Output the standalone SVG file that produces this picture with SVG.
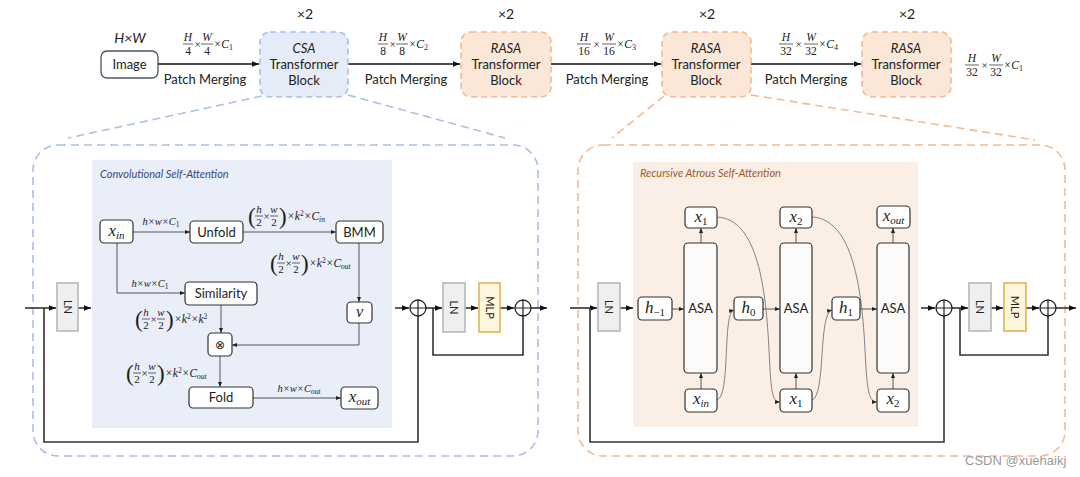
<svg xmlns="http://www.w3.org/2000/svg" width="1080" height="477" viewBox="0 0 1080 477">
<defs>
<style>
.t{font-family:Lato,"Noto Sans","Liberation Sans",sans-serif;fill:#222}
.ti{font-family:Lato,"Noto Sans","Liberation Sans",sans-serif;font-style:italic;fill:#222}
.m{font-family:"Liberation Serif","DejaVu Serif",serif;font-style:italic;fill:#222}
.n{font-family:"Liberation Serif","DejaVu Serif",serif;fill:#222}
.box{fill:#fff;stroke:#333;stroke-width:1.2}
.ln{fill:#efefef;stroke:#b8b8b8;stroke-width:1.6}
.mlp{fill:#fdf6dc;stroke:#dcb553;stroke-width:1.6}
.bar{stroke:#222;stroke-width:0.7}
.main{fill:none;stroke:#111;stroke-width:1.5}
.skip{fill:none;stroke:#333;stroke-width:1.6}
.thin{fill:none;stroke:#444;stroke-width:0.9}
.curve{fill:none;stroke:#666;stroke-width:0.8}
.plus{fill:#fff;stroke:#222;stroke-width:1.3}
</style>
<marker id="A" viewBox="0 0 10 10" refX="10" refY="5" markerWidth="7" markerHeight="7" markerUnits="userSpaceOnUse" orient="auto"><path d="M0,1 L10,5 L0,9 z" fill="#111"/></marker>
<marker id="a" viewBox="0 0 10 10" refX="10" refY="5" markerWidth="5" markerHeight="5" markerUnits="userSpaceOnUse" orient="auto"><path d="M0,1 L10,5 L0,9 z" fill="#222"/></marker>
</defs>
<rect width="1080" height="477" fill="#fff"/>

<g id="panels">
<line x1="262" y1="96" x2="68" y2="138" stroke="#a9bfe8" stroke-width="1.6" stroke-dasharray="8 5"/>
<line x1="348" y1="95" x2="505" y2="138" stroke="#a9bfe8" stroke-width="1.6" stroke-dasharray="8 5"/>
<rect x="33" y="145" width="505" height="311" rx="25" fill="none" stroke="#a9bfe8" stroke-width="1.6" stroke-dasharray="8 5"/>
<line x1="664" y1="96" x2="612" y2="138" stroke="#f0bb95" stroke-width="1.6" stroke-dasharray="8 5"/>
<line x1="751" y1="95" x2="1035" y2="140" stroke="#f0bb95" stroke-width="1.6" stroke-dasharray="8 5"/>
<rect x="578" y="145" width="487" height="311" rx="25" fill="none" stroke="#f0bb95" stroke-width="1.6" stroke-dasharray="8 5"/>
<rect x="92" y="160" width="300" height="268" fill="#e9eef8"/>
<text class="ti" x="100" y="178" font-size="11" style="fill:#3b4b80">Convolutional Self-Attention</text>
<rect x="633" y="162" width="285" height="265" fill="#fbeee5"/>
<text class="ti" x="640" y="177" font-size="11" style="fill:#a05a2c">Recursive Atrous Self-Attention</text>
</g>

<g id="connectors">
<path class="main" d="M158,64 H259" marker-end="url(#A)"/>
<path class="main" d="M348,64 H460" marker-end="url(#A)"/>
<path class="main" d="M551,64 H661" marker-end="url(#A)"/>
<path class="main" d="M751,64 H861" marker-end="url(#A)"/>
<path class="skip" d="M25,308 H56" marker-end="url(#A)"/>
<path class="skip" d="M44,308 V442 H418 V316"/>
<path class="skip" d="M78,308 H91" marker-end="url(#A)"/>
<path class="skip" d="M395,308 H409" marker-end="url(#A)"/>
<path class="skip" d="M426,308 H442" marker-end="url(#A)"/>
<path class="skip" d="M433,308 V355 H523 V316"/>
<path class="skip" d="M465,308 H478" marker-end="url(#A)"/>
<path class="skip" d="M500,308 H514" marker-end="url(#A)"/>
<path class="skip" d="M531,308 H547" marker-end="url(#A)"/>
<path class="thin" d="M133,232 H190" marker-end="url(#a)"/>
<path class="thin" d="M243,232 H336" marker-end="url(#a)"/>
<path class="thin" d="M117,243 V293 H185" marker-end="url(#a)"/>
<path class="thin" d="M359,243 V302" marker-end="url(#a)"/>
<path class="thin" d="M221,305 V333" marker-end="url(#a)"/>
<path class="thin" d="M359,323 V345 H232" marker-end="url(#a)"/>
<path class="thin" d="M220,356 V387" marker-end="url(#a)"/>
<path class="thin" d="M253,398 H341" marker-end="url(#a)"/>
<path class="skip" d="M570,308 H597" marker-end="url(#A)"/>
<path class="skip" d="M590,308 V442 H944 V316"/>
<path class="skip" d="M620,308 H633" marker-end="url(#A)"/>
<path class="skip" d="M921,308 H935" marker-end="url(#A)"/>
<path class="skip" d="M952,308 H968" marker-end="url(#A)"/>
<path class="skip" d="M960,308 V355 H1048 V316"/>
<path class="skip" d="M991,308 H1003" marker-end="url(#A)"/>
<path class="skip" d="M1026,308 H1039" marker-end="url(#A)"/>
<path class="skip" d="M1056,308 H1076" marker-end="url(#A)"/>
<path class="thin" d="M672,309 H684" marker-end="url(#a)"/>
<path class="thin" d="M701,243 V228" marker-end="url(#a)"/>
<path class="thin" d="M701,389 V373" marker-end="url(#a)"/>
<path class="thin" d="M763,309 H780" marker-end="url(#a)"/>
<path class="thin" d="M796,243 V228" marker-end="url(#a)"/>
<path class="thin" d="M796,389 V373" marker-end="url(#a)"/>
<path class="thin" d="M860,309 H877" marker-end="url(#a)"/>
<path class="thin" d="M893,243 V228" marker-end="url(#a)"/>
<path class="thin" d="M893,389 V373" marker-end="url(#a)"/>
<path class="curve" d="M717,400 C731,396 722,313 734,310" marker-end="url(#a)"/>
<path class="curve" d="M717,217 C758,219 766,290 769,350 C771,392 772,402 780,402" marker-end="url(#a)"/>
<path class="curve" d="M812,400 C826,396 818,313 832,310" marker-end="url(#a)"/>
<path class="curve" d="M812,217 C853,219 862,290 865,350 C867,392 869,402 877,402" marker-end="url(#a)"/>
</g>

<g id="image">
<text class="ti" x="130" y="43" font-size="14" text-anchor="middle">H×W</text>
<rect x="101" y="51" width="57" height="27" rx="6" fill="#fff" stroke="#4c5566" stroke-width="1.3"/>
<text class="t" x="129.5" y="69" font-size="13" text-anchor="middle">Image</text>
</g>
<g id="csa-block">
<text class="t" x="305" y="19" font-size="14" text-anchor="middle">×2</text>
<rect x="260" y="32" width="88" height="65" rx="10" fill="#e6ecf7" stroke="#a9bfe8" stroke-width="1.6" stroke-dasharray="6 4"/>
<text class="ti" x="304" y="53" font-size="13" text-anchor="middle">CSA</text>
<text class="t" x="304" y="69" font-size="13" text-anchor="middle">Transformer</text>
<text class="t" x="304" y="85" font-size="13" text-anchor="middle">Block</text>
</g>
<g id="rasa-block-1">
<text class="t" x="506" y="19" font-size="14" text-anchor="middle">×2</text>
<rect x="461" y="32" width="90" height="65" rx="10" fill="#fbe7d8" stroke="#f0bb95" stroke-width="1.6" stroke-dasharray="6 4"/>
<text class="ti" x="506" y="53" font-size="13" text-anchor="middle">RASA</text>
<text class="t" x="506" y="69" font-size="13" text-anchor="middle">Transformer</text>
<text class="t" x="506" y="85" font-size="13" text-anchor="middle">Block</text>
</g>
<g id="rasa-block-2">
<text class="t" x="707" y="19" font-size="14" text-anchor="middle">×2</text>
<rect x="662" y="32" width="89" height="65" rx="10" fill="#fbe7d8" stroke="#f0bb95" stroke-width="1.6" stroke-dasharray="6 4"/>
<text class="ti" x="706" y="53" font-size="13" text-anchor="middle">RASA</text>
<text class="t" x="706" y="69" font-size="13" text-anchor="middle">Transformer</text>
<text class="t" x="706" y="85" font-size="13" text-anchor="middle">Block</text>
</g>
<g id="rasa-block-3">
<text class="t" x="907" y="19" font-size="14" text-anchor="middle">×2</text>
<rect x="862" y="32" width="89" height="65" rx="10" fill="#fbe7d8" stroke="#f0bb95" stroke-width="1.6" stroke-dasharray="6 4"/>
<text class="ti" x="906" y="53" font-size="13" text-anchor="middle">RASA</text>
<text class="t" x="906" y="69" font-size="13" text-anchor="middle">Transformer</text>
<text class="t" x="906" y="85" font-size="13" text-anchor="middle">Block</text>
</g>

<g id="top-labels">
<text class="t" x="205" y="84" font-size="13" text-anchor="middle">Patch Merging</text>
<text class="t" x="406" y="84" font-size="13" text-anchor="middle">Patch Merging</text>
<text class="t" x="607" y="84" font-size="13" text-anchor="middle">Patch Merging</text>
<text class="t" x="806" y="84" font-size="13" text-anchor="middle">Patch Merging</text>
<g>
<text class="m" x="188" y="41" font-size="11.5" text-anchor="middle">H</text><line class="bar" x1="183" y1="44" x2="193" y2="44"/><text class="n" x="188" y="55" font-size="11.5" text-anchor="middle">4</text>
<text class="n" x="197.5" y="48" font-size="11" text-anchor="middle">×</text>
<text class="m" x="207" y="41" font-size="11.5" text-anchor="middle">W</text><line class="bar" x1="201" y1="44" x2="213" y2="44"/><text class="n" x="207" y="55" font-size="11.5" text-anchor="middle">4</text>
<text class="m" x="213.5" y="48" font-size="11.5">×C<tspan font-size="8" dy="2" font-style="normal">1</tspan></text>
</g>
<g>
<text class="m" x="383" y="41" font-size="11.5" text-anchor="middle">H</text><line class="bar" x1="378" y1="44" x2="388" y2="44"/><text class="n" x="383" y="55" font-size="11.5" text-anchor="middle">8</text>
<text class="n" x="392.5" y="48" font-size="11" text-anchor="middle">×</text>
<text class="m" x="402" y="41" font-size="11.5" text-anchor="middle">W</text><line class="bar" x1="396" y1="44" x2="408" y2="44"/><text class="n" x="402" y="55" font-size="11.5" text-anchor="middle">8</text>
<text class="m" x="408.5" y="48" font-size="11.5">×C<tspan font-size="8" dy="2" font-style="normal">2</tspan></text>
</g>
<g>
<text class="m" x="584" y="41" font-size="11.5" text-anchor="middle">H</text><line class="bar" x1="577" y1="44" x2="591" y2="44"/><text class="n" x="584" y="55" font-size="11.5" text-anchor="middle">16</text>
<text class="n" x="596.5" y="48" font-size="11" text-anchor="middle">×</text>
<text class="m" x="609" y="41" font-size="11.5" text-anchor="middle">W</text><line class="bar" x1="602" y1="44" x2="616" y2="44"/><text class="n" x="609" y="55" font-size="11.5" text-anchor="middle">16</text>
<text class="m" x="616.5" y="48" font-size="11.5">×C<tspan font-size="8" dy="2" font-style="normal">3</tspan></text>
</g>
<g>
<text class="m" x="786" y="41" font-size="11.5" text-anchor="middle">H</text><line class="bar" x1="779" y1="44" x2="793" y2="44"/><text class="n" x="786" y="55" font-size="11.5" text-anchor="middle">32</text>
<text class="n" x="798.5" y="48" font-size="11" text-anchor="middle">×</text>
<text class="m" x="811" y="41" font-size="11.5" text-anchor="middle">W</text><line class="bar" x1="804" y1="44" x2="818" y2="44"/><text class="n" x="811" y="55" font-size="11.5" text-anchor="middle">32</text>
<text class="m" x="818.5" y="48" font-size="11.5">×C<tspan font-size="8" dy="2" font-style="normal">4</tspan></text>
</g>
<g>
<text class="m" x="972" y="62" font-size="11.5" text-anchor="middle">H</text><line class="bar" x1="965" y1="65" x2="979" y2="65"/><text class="n" x="972" y="76" font-size="11.5" text-anchor="middle">32</text>
<text class="n" x="984.5" y="69" font-size="11" text-anchor="middle">×</text>
<text class="m" x="996" y="62" font-size="11.5" text-anchor="middle">W</text><line class="bar" x1="989" y1="65" x2="1003" y2="65"/><text class="n" x="996" y="76" font-size="11.5" text-anchor="middle">32</text>
<text class="m" x="1003.5" y="69" font-size="11.5">×C<tspan font-size="8" dy="2" font-style="normal">1</tspan></text>
</g>
</g>

<g id="ln-1"><rect class="ln" x="57" y="283" width="21" height="48"/><text class="t" font-size="11" text-anchor="middle" transform="translate(63.5,307) rotate(90)">LN</text></g>
<g id="csa-xin"><rect class="box" x="100" y="220" width="33" height="23" rx="4"/><text class="m" x="116.5" y="236" font-size="17" text-anchor="middle">x<tspan font-size="11" dy="3">in</tspan></text></g>
<g id="csa-unfold"><rect class="box" x="190" y="221" width="53" height="22" rx="4"/><text class="t" x="216.5" y="236.5" font-size="13" text-anchor="middle">Unfold</text></g>
<g id="csa-bmm"><rect class="box" x="336" y="221" width="47" height="22" rx="4"/><text class="t" x="359.5" y="236.5" font-size="13" text-anchor="middle">BMM</text></g>
<g id="csa-similarity"><rect class="box" x="185" y="282" width="72" height="23" rx="4"/><text class="t" x="221" y="298" font-size="13" text-anchor="middle">Similarity</text></g>
<g id="csa-v"><rect class="box" x="347" y="302" width="25" height="21" rx="4"/><text class="m" x="359.5" y="317" font-size="16" text-anchor="middle">v</text></g>
<g id="csa-mul"><rect class="box" x="208" y="333" width="24" height="23" rx="4"/><text x="220" y="349" font-size="12" text-anchor="middle" font-family="'DejaVu Sans',sans-serif" fill="#222">⊗</text></g>
<g id="csa-fold"><rect class="box" x="189" y="387" width="64" height="21" rx="4"/><text class="t" x="221" y="402" font-size="13" text-anchor="middle">Fold</text></g>
<g id="csa-xout"><rect class="box" x="341" y="387" width="37" height="22" rx="4"/><text class="m" x="359.5" y="402" font-size="17" text-anchor="middle">x<tspan font-size="11" dy="3">out</tspan></text></g>

<g id="csa-labels">
<text class="m" x="161" y="225" font-size="10.5" text-anchor="middle">h×w×C<tspan font-size="7.5" dy="2" font-style="normal">1</tspan></text>
<text class="m" x="150" y="287" font-size="10.5" text-anchor="middle">h×w×C<tspan font-size="7.5" dy="2" font-style="normal">1</tspan></text>
<text class="m" x="299" y="392" font-size="10.5" text-anchor="middle">h×w×C<tspan font-size="7.5" dy="2">out</tspan></text>
<g transform="translate(248,216)">
<text class="n" x="0" y="7.5" font-size="23">(</text><text class="m" x="11" y="-3" font-size="11" text-anchor="middle">h</text><line class="bar" x1="7" y1="0" x2="15" y2="0"/><text class="n" x="11" y="10" font-size="11" text-anchor="middle">2</text>
<text class="n" x="18.5" y="4" font-size="11" text-anchor="middle">×</text>
<text class="m" x="26" y="-3" font-size="11" text-anchor="middle">w</text><line class="bar" x1="22" y1="0" x2="30" y2="0"/><text class="n" x="26" y="10" font-size="11" text-anchor="middle">2</text>
<text class="n" x="31" y="7.5" font-size="23">)</text>
<text class="m" x="39" y="4" font-size="11.5">×k<tspan font-size="7.5" dy="-4" font-style="normal">2</tspan><tspan dy="4">×C</tspan><tspan font-size="7.5" dy="2">in</tspan></text>
</g>
<g transform="translate(270,263)">
<text class="n" x="0" y="7.5" font-size="23">(</text><text class="m" x="11" y="-3" font-size="11" text-anchor="middle">h</text><line class="bar" x1="7" y1="0" x2="15" y2="0"/><text class="n" x="11" y="10" font-size="11" text-anchor="middle">2</text>
<text class="n" x="18.5" y="4" font-size="11" text-anchor="middle">×</text>
<text class="m" x="26" y="-3" font-size="11" text-anchor="middle">w</text><line class="bar" x1="22" y1="0" x2="30" y2="0"/><text class="n" x="26" y="10" font-size="11" text-anchor="middle">2</text>
<text class="n" x="31" y="7.5" font-size="23">)</text>
<text class="m" x="39" y="4" font-size="11.5">×k<tspan font-size="7.5" dy="-4" font-style="normal">2</tspan><tspan dy="4">×C</tspan><tspan font-size="7.5" dy="2">out</tspan></text>
</g>
<g transform="translate(135,319)">
<text class="n" x="0" y="7.5" font-size="23">(</text><text class="m" x="11" y="-3" font-size="11" text-anchor="middle">h</text><line class="bar" x1="7" y1="0" x2="15" y2="0"/><text class="n" x="11" y="10" font-size="11" text-anchor="middle">2</text>
<text class="n" x="18.5" y="4" font-size="11" text-anchor="middle">×</text>
<text class="m" x="26" y="-3" font-size="11" text-anchor="middle">w</text><line class="bar" x1="22" y1="0" x2="30" y2="0"/><text class="n" x="26" y="10" font-size="11" text-anchor="middle">2</text>
<text class="n" x="31" y="7.5" font-size="23">)</text>
<text class="m" x="39" y="4" font-size="11.5">×k<tspan font-size="7.5" dy="-4" font-style="normal">2</tspan><tspan dy="4">×k</tspan><tspan font-size="7.5" dy="-4" font-style="normal">2</tspan></text>
</g>
<g transform="translate(126,373)">
<text class="n" x="0" y="7.5" font-size="23">(</text><text class="m" x="11" y="-3" font-size="11" text-anchor="middle">h</text><line class="bar" x1="7" y1="0" x2="15" y2="0"/><text class="n" x="11" y="10" font-size="11" text-anchor="middle">2</text>
<text class="n" x="18.5" y="4" font-size="11" text-anchor="middle">×</text>
<text class="m" x="26" y="-3" font-size="11" text-anchor="middle">w</text><line class="bar" x1="22" y1="0" x2="30" y2="0"/><text class="n" x="26" y="10" font-size="11" text-anchor="middle">2</text>
<text class="n" x="31" y="7.5" font-size="23">)</text>
<text class="m" x="39" y="4" font-size="11.5">×k<tspan font-size="7.5" dy="-4" font-style="normal">2</tspan><tspan dy="4">×C</tspan><tspan font-size="7.5" dy="2">out</tspan></text>
</g>
</g>

<g id="add-1"><circle class="plus" cx="418" cy="308" r="8"/><path d="M410,308 H426 M418,300 V316" stroke="#222" stroke-width="1.2"/></g>
<g id="ln-2"><rect class="ln" x="443" y="283" width="22" height="49"/><text class="t" font-size="11" text-anchor="middle" transform="translate(450,307.5) rotate(90)">LN</text></g>
<g id="mlp-1"><rect class="mlp" x="479" y="283" width="21" height="49"/><text class="t" font-size="11" text-anchor="middle" transform="translate(485.5,307.5) rotate(90)">MLP</text></g>
<g id="add-2"><circle class="plus" cx="523" cy="308" r="8"/><path d="M515,308 H531 M523,300 V316" stroke="#222" stroke-width="1.2"/></g>

<g id="ln-3"><rect class="ln" x="598" y="283" width="22" height="48"/><text class="t" font-size="11" text-anchor="middle" transform="translate(605,307) rotate(90)">LN</text></g>
<g id="rasa-hm1"><rect class="box" x="638" y="297" width="34" height="23" rx="4"/><text class="m" x="655" y="313" font-size="17" text-anchor="middle">h<tspan font-size="11" dy="3" font-style="normal">−1</tspan></text></g>
<g id="rasa-asa-1"><rect class="box" x="684" y="243" width="33" height="130" rx="4" style="fill:#fdfbfa"/><text class="t" x="700.5" y="313" font-size="13" text-anchor="middle">ASA</text></g>
<g id="rasa-x1-top"><rect class="box" x="685" y="207" width="32" height="21" rx="4"/><text class="m" x="701" y="222" font-size="17" text-anchor="middle">x<tspan font-size="11" dy="3" font-style="normal">1</tspan></text></g>
<g id="rasa-xin"><rect class="box" x="685" y="389" width="32" height="23" rx="4"/><text class="m" x="701" y="404" font-size="17" text-anchor="middle">x<tspan font-size="11" dy="3">in</tspan></text></g>
<g id="rasa-h0"><rect class="box" x="734" y="297" width="29" height="23" rx="4"/><text class="m" x="748.5" y="313" font-size="17" text-anchor="middle">h<tspan font-size="11" dy="3" font-style="normal">0</tspan></text></g>
<g id="rasa-asa-2"><rect class="box" x="780" y="243" width="32" height="130" rx="4" style="fill:#fdfbfa"/><text class="t" x="796" y="313" font-size="13" text-anchor="middle">ASA</text></g>
<g id="rasa-x2-top"><rect class="box" x="780" y="207" width="32" height="21" rx="4"/><text class="m" x="796" y="222" font-size="17" text-anchor="middle">x<tspan font-size="11" dy="3" font-style="normal">2</tspan></text></g>
<g id="rasa-x1-bottom"><rect class="box" x="780" y="389" width="32" height="23" rx="4"/><text class="m" x="796" y="404" font-size="17" text-anchor="middle">x<tspan font-size="11" dy="3" font-style="normal">1</tspan></text></g>
<g id="rasa-h1"><rect class="box" x="832" y="297" width="28" height="23" rx="4"/><text class="m" x="846" y="313" font-size="17" text-anchor="middle">h<tspan font-size="11" dy="3" font-style="normal">1</tspan></text></g>
<g id="rasa-asa-3"><rect class="box" x="877" y="243" width="32" height="130" rx="4" style="fill:#fdfbfa"/><text class="t" x="893" y="313" font-size="13" text-anchor="middle">ASA</text></g>
<g id="rasa-xout"><rect class="box" x="877" y="206" width="33" height="22" rx="4"/><text class="m" x="893.5" y="221" font-size="17" text-anchor="middle">x<tspan font-size="11" dy="3">out</tspan></text></g>
<g id="rasa-x2-bottom"><rect class="box" x="877" y="389" width="32" height="23" rx="4"/><text class="m" x="893" y="404" font-size="17" text-anchor="middle">x<tspan font-size="11" dy="3" font-style="normal">2</tspan></text></g>
<g id="add-3"><circle class="plus" cx="944" cy="308" r="8"/><path d="M936,308 H952 M944,300 V316" stroke="#222" stroke-width="1.2"/></g>
<g id="ln-4"><rect class="ln" x="969" y="283" width="22" height="48"/><text class="t" font-size="11" text-anchor="middle" transform="translate(976,307) rotate(90)">LN</text></g>
<g id="mlp-2"><rect class="mlp" x="1004" y="283" width="22" height="48"/><text class="t" font-size="11" text-anchor="middle" transform="translate(1011,307) rotate(90)">MLP</text></g>
<g id="add-4"><circle class="plus" cx="1048" cy="308" r="8"/><path d="M1040,308 H1056 M1048,300 V316" stroke="#222" stroke-width="1.2"/></g>

<text x="965" y="465" font-size="13" font-family="'Liberation Sans',Arial,sans-serif" fill="#9a9a9a">CSDN @xuehaikj</text>
</svg>
